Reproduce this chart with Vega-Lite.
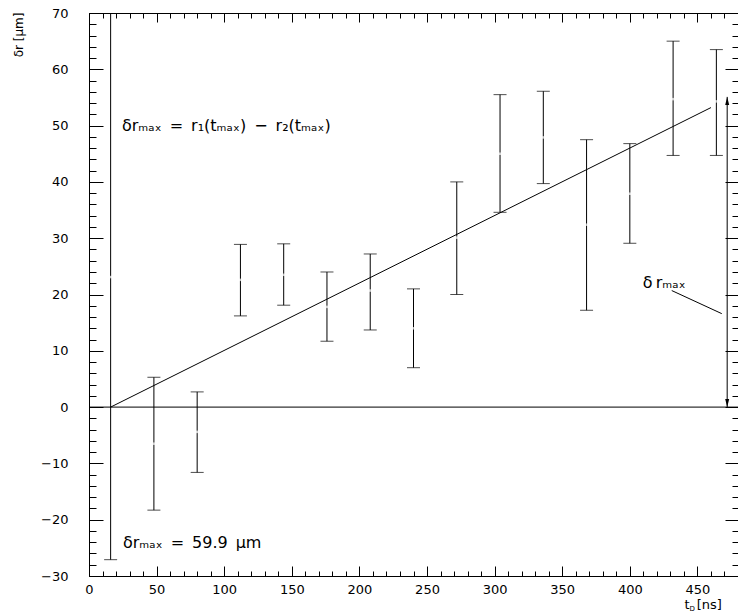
{
  "$schema": "https://vega.github.io/schema/vega-lite/v6.json",
  "width": 649,
  "height": 563,
  "autosize": {"type": "none"},
  "padding": {"left": 89, "top": 13, "right": 0, "bottom": 38},
  "background": "white",
  "datasets": {
    "pts": [
      {"t": 16, "c": 23.1, "lo": -27.1, "hi": 73.3},
      {"t": 48, "c": -6.5, "lo": -18.3, "hi": 5.3},
      {"t": 80, "c": -4.4, "lo": -11.6, "hi": 2.7},
      {"t": 112, "c": 22.6, "lo": 16.2, "hi": 28.9},
      {"t": 144, "c": 23.5, "lo": 18.1, "hi": 29.0},
      {"t": 176, "c": 17.8, "lo": 11.7, "hi": 24.0},
      {"t": 208, "c": 20.7, "lo": 13.7, "hi": 27.2},
      {"t": 240, "c": 14.0, "lo": 7.0, "hi": 21.0},
      {"t": 272, "c": 30.1, "lo": 20.0, "hi": 40.0},
      {"t": 304, "c": 45.0, "lo": 34.6, "hi": 55.5},
      {"t": 336, "c": 47.9, "lo": 39.7, "hi": 56.1},
      {"t": 368, "c": 32.4, "lo": 17.2, "hi": 47.5},
      {"t": 400, "c": 37.9, "lo": 29.1, "hi": 46.8},
      {"t": 432, "c": 54.7, "lo": 44.7, "hi": 65.0},
      {"t": 464, "c": 54.3, "lo": 44.7, "hi": 63.5}
    ],
    "fit": [{"t": 16, "v": 0}, {"t": 460, "v": 53.2}],
    "zero": [{"v": 0}],
    "arrow": [{"t": 472, "y0": 0, "y1": 55.1}],
    "heads": [{"t": 472, "v": 55.1, "dir": "up"}, {"t": 472, "v": 0, "dir": "down"}],
    "leader": [{"x1": 431, "y1": 20.7, "x2": 468, "y2": 16.6}],
    "notes": [
      {"t": 24.4, "v": 50.0, "text": "δrₘₐₓ\u2002=\u2002r₁(tₘₐₓ)\u2002−\u2002r₂(tₘₐₓ)", "role": "big"},
      {"t": 25.1, "v": -24.2, "text": "δrₘₐₓ\u2002=\u200259.9\u2002μm", "role": "big"},
      {"t": 409.5, "v": 22.0, "text": "δ\u2009rₘₐₓ", "role": "big"},
      {"t": 440.5, "v": -35.9, "text": "t", "role": "title"},
      {"t": 449.4, "v": -35.9, "text": "[ns]", "role": "title"},
      {"t": 444.2, "v": -36.3, "text": "D", "role": "sub"}
    ]
  },
  "resolve": {"axis": {"x": "independent", "y": "independent"}},
  "layer": [
    {
      "data": {"name": "pts"},
      "mark": {"type": "rule", "color": "black", "strokeWidth": 1, "clip": true},
      "encoding": {
        "x": {"field": "t", "type": "quantitative", "scale": {"domain": [0, 480], "nice": false, "zero": false},
          "axis": {"orient": "bottom", "values": [0, 50, 100, 150, 200, 250, 300, 350, 400, 450], "offset": -10, "tickSize": 10, "tickColor": "black", "tickWidth": 1, "grid": false, "domain": false,
            "labelPadding": 7, "labelFont": "DejaVu Sans", "labelFontSize": 13, "labelColor": "black", "title": null, "labelFlush": false, "labelOverlap": false}},
        "y": {"field": "lo", "type": "quantitative", "scale": {"domain": [-30, 70], "nice": false, "zero": false},
          "axis": {"orient": "left", "values": [-30, -20, -10, 0, 10, 20, 30, 40, 50, 60, 70], "offset": -14, "tickSize": 14, "tickColor": "black", "tickWidth": 1, "grid": false, "domain": false,
            "labelPadding": 21, "labelFont": "DejaVu Sans", "labelFontSize": 13, "labelColor": "black", "labelFlush": false, "labelOverlap": false,
            "title": "δr [μm]", "titleFont": "DejaVu Sans", "titleColor": "black", "titleFontSize": 12, "titleFontWeight": "normal", "titleAngle": 270, "titleX": -85, "titleY": -1, "titleAlign": "right", "titleBaseline": "middle"}},
        "y2": {"field": "hi"}
      }
    },
    {
      "data": {"name": "pts"},
      "transform": [{"fold": ["lo", "hi"], "as": ["end", "v"]}],
      "mark": {"type": "tick", "orient": "horizontal", "color": "black", "size": 13, "thickness": 1, "clip": true},
      "encoding": {
        "x": {"field": "t", "type": "quantitative", "scale": {"domain": [0, 480], "nice": false, "zero": false},
          "axis": {"orient": "bottom", "values": [0,10,20,30,40,50,60,70,80,90,100,110,120,130,140,150,160,170,180,190,200,210,220,230,240,250,260,270,280,290,300,310,320,330,340,350,360,370,380,390,400,410,420,430,440,450,460,470,480], "offset": -5, "tickSize": 5, "tickColor": "black", "tickWidth": 1, "grid": false, "domain": false, "labels": false, "title": null}},
        "y": {"field": "v", "type": "quantitative", "scale": {"domain": [-30, 70], "nice": false, "zero": false},
          "axis": {"orient": "left", "values": [-30,-28,-26,-24,-22,-20,-18,-16,-14,-12,-10,-8,-6,-4,-2,0,2,4,6,8,10,12,14,16,18,20,22,24,26,28,30,32,34,36,38,40,42,44,46,48,50,52,54,56,58,60,62,64,66,68,70], "offset": -7, "tickSize": 7, "tickColor": "black", "tickWidth": 1, "grid": false, "domain": false, "labels": false, "title": null}}
      }
    },
    {
      "data": {"name": "pts"},
      "mark": {"type": "tick", "orient": "horizontal", "color": "white", "size": 4, "thickness": 2.5, "clip": true},
      "encoding": {
        "x": {"field": "t", "type": "quantitative", "scale": {"domain": [0, 480], "nice": false, "zero": false},
          "axis": {"orient": "top", "values": [0, 50, 100, 150, 200, 250, 300, 350, 400, 450], "offset": -9, "tickSize": 9, "tickColor": "black", "tickWidth": 1, "grid": false, "domain": false, "labels": false, "title": null}},
        "y": {"field": "c", "type": "quantitative", "scale": {"domain": [-30, 70], "nice": false, "zero": false},
          "axis": {"orient": "right", "values": [-30, -20, -10, 0, 10, 20, 30, 40, 50, 60, 70], "offset": -13, "tickSize": 13, "tickColor": "black", "tickWidth": 1, "grid": false, "domain": false, "labels": false, "title": null}}
      }
    },
    {
      "data": {"name": "fit"},
      "mark": {"type": "line", "color": "black", "strokeWidth": 1},
      "encoding": {
        "x": {"field": "t", "type": "quantitative", "scale": {"domain": [0, 480], "nice": false, "zero": false},
          "axis": {"orient": "top", "values": [0,10,20,30,40,50,60,70,80,90,100,110,120,130,140,150,160,170,180,190,200,210,220,230,240,250,260,270,280,290,300,310,320,330,340,350,360,370,380,390,400,410,420,430,440,450,460,470,480], "offset": -5, "tickSize": 5, "tickColor": "black", "tickWidth": 1, "grid": false, "domain": false, "labels": false, "title": null}},
        "y": {"field": "v", "type": "quantitative", "scale": {"domain": [-30, 70], "nice": false, "zero": false},
          "axis": {"orient": "right", "values": [-30,-28,-26,-24,-22,-20,-18,-16,-14,-12,-10,-8,-6,-4,-2,0,2,4,6,8,10,12,14,16,18,20,22,24,26,28,30,32,34,36,38,40,42,44,46,48,50,52,54,56,58,60,62,64,66,68,70], "offset": -6, "tickSize": 6, "tickColor": "black", "tickWidth": 1, "grid": false, "domain": false, "labels": false, "title": null}}
      }
    },
    {
      "data": {"name": "zero"},
      "mark": {"type": "rule", "color": "black", "strokeWidth": 1},
      "encoding": {
        "y": {"field": "v", "type": "quantitative", "scale": {"domain": [-30, 70], "nice": false, "zero": false}, "axis": null}
      }
    },
    {
      "data": {"name": "arrow"},
      "mark": {"type": "rule", "color": "black", "strokeWidth": 1},
      "encoding": {
        "x": {"field": "t", "type": "quantitative", "scale": {"domain": [0, 480], "nice": false, "zero": false}, "axis": null},
        "y": {"field": "y0", "type": "quantitative", "scale": {"domain": [-30, 70], "nice": false, "zero": false}, "axis": null},
        "y2": {"field": "y1"}
      }
    },
    {
      "data": {"name": "heads"},
      "mark": {"type": "point", "filled": true, "color": "black", "size": 256, "opacity": 1},
      "encoding": {
        "x": {"field": "t", "type": "quantitative", "scale": {"domain": [0, 480], "nice": false, "zero": false}, "axis": null},
        "y": {"field": "v", "type": "quantitative", "scale": {"domain": [-30, 70], "nice": false, "zero": false}, "axis": null},
        "shape": {"field": "dir", "type": "nominal", "scale": {"domain": ["up", "down"], "range": ["M0,0L-0.25,1L0.25,1Z", "M0,0L-0.25,-1L0.25,-1Z"]}, "legend": null}
      }
    },
    {
      "data": {"name": "leader"},
      "mark": {"type": "rule", "color": "black", "strokeWidth": 1},
      "encoding": {
        "x": {"field": "x1", "type": "quantitative", "scale": {"domain": [0, 480], "nice": false, "zero": false}, "axis": null},
        "y": {"field": "y1", "type": "quantitative", "scale": {"domain": [-30, 70], "nice": false, "zero": false}, "axis": null},
        "x2": {"field": "x2"},
        "y2": {"field": "y2"}
      }
    },
    {
      "data": {"name": "notes"},
      "transform": [{"filter": "datum.role === 'big'"}],
      "mark": {"type": "text", "font": "DejaVu Sans", "fontSize": 16, "align": "left", "baseline": "middle", "color": "black"},
      "encoding": {
        "x": {"field": "t", "type": "quantitative", "scale": {"domain": [0, 480], "nice": false, "zero": false}, "axis": null},
        "y": {"field": "v", "type": "quantitative", "scale": {"domain": [-30, 70], "nice": false, "zero": false}, "axis": null},
        "text": {"field": "text"}
      }
    },
    {
      "data": {"name": "notes"},
      "transform": [{"filter": "datum.role === 'title'"}],
      "mark": {"type": "text", "font": "DejaVu Sans", "fontSize": 13, "align": "left", "baseline": "alphabetic", "color": "black"},
      "encoding": {
        "x": {"field": "t", "type": "quantitative", "scale": {"domain": [0, 480], "nice": false, "zero": false}, "axis": null},
        "y": {"field": "v", "type": "quantitative", "scale": {"domain": [-30, 70], "nice": false, "zero": false}, "axis": null},
        "text": {"field": "text"}
      }
    },
    {
      "data": {"name": "notes"},
      "transform": [{"filter": "datum.role === 'sub'"}],
      "mark": {"type": "text", "font": "DejaVu Sans", "fontSize": 7, "align": "left", "baseline": "alphabetic", "color": "black"},
      "encoding": {
        "x": {"field": "t", "type": "quantitative", "scale": {"domain": [0, 480], "nice": false, "zero": false}, "axis": null},
        "y": {"field": "v", "type": "quantitative", "scale": {"domain": [-30, 70], "nice": false, "zero": false}, "axis": null},
        "text": {"field": "text"}
      }
    }
  ],
  "config": {
    "view": {"stroke": "black", "strokeWidth": 1}
  }
}
